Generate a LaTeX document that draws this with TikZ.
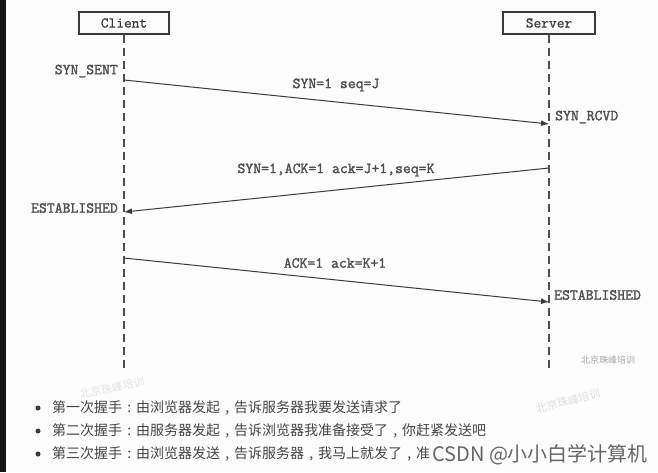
\documentclass[tikz,border=0pt]{standalone}
\usepackage{fontspec}
\setmainfont{Liberation Serif}
\newfontfamily\lblfont[FakeBold=1.6]{Latin Modern Mono}
\newfontfamily\boxfont[FakeBold=0.8]{Latin Modern Mono}
\newfontfamily\cjk{Noto Sans CJK SC}
\usetikzlibrary{arrows.meta}
\definecolor{ink}{HTML}{3A3A3A}
\definecolor{txt}{HTML}{454545}
\definecolor{bg}{HTML}{FCFCFC}
\newcommand{\ccolon}{\makebox[1em][c]{:}}
\newcommand{\ccomma}{\makebox[1em][c]{,}}
\tikzset{
  actor/.style={draw=ink, line width=1.1pt, minimum width=90pt, minimum height=22pt,
    inner sep=0pt, font=\boxfont\fontsize{15}{16}\selectfont, text=ink},
  life/.style={draw=ink!90, line width=1.1pt, dash pattern=on 8pt off 5pt},
  msg/.style={draw=ink, line width=1pt, -{Latex[length=8pt,width=6pt]}},
  state/.style={font=\lblfont\fontsize{15.3}{17}\selectfont, text=ink!90, inner sep=0pt},
  bul/.style={circle, fill=ink, inner sep=0pt, minimum size=5pt},
  line/.style={font=\cjk\fontsize{14}{16}\selectfont, text=txt, inner sep=0pt, anchor=west},
  wm/.style={font=\cjk\fontsize{9}{10}\selectfont, text=black!35, inner sep=0pt},
}
\begin{document}
\begin{tikzpicture}[x=1pt,y=-1pt]
\fill[bg] (0,0) rectangle (658,472);
\useasboundingbox (0,0) rectangle (658,472);
\fill[black!92] (0,0) rectangle (6,472);

% actors
\node[actor] (client) at (124,23) {Client};
\node[actor, minimum width=92pt] (server) at (549,23) {Server};
\coordinate (cend) at (124,370);
\coordinate (send) at (549,368);
\draw[life] (client.south) -- (cend);
\draw[life] (server.south) -- (send);

% message end points
\coordinate (c1) at (124,80);
\coordinate (s1) at (549,124);
\coordinate (s2) at (549,168);
\coordinate (c2) at (124,212);
\coordinate (c3) at (124,258);
\coordinate (s3) at (549,302);

\draw[msg] (c1) -- (s1);
\draw[msg] (s2) -- (c2);
\draw[msg] (c3) -- (s3);

% labels
\node[state] (l1) at (336,85) {SYN=1 seq=J};
\node[state] (l2) at (336,170) {SYN=1,ACK=1 ack=J+1,seq=K};
\node[state] (l3) at (335,263) {ACK=1 ack=K+1};

\node[state, anchor=east] (st1) at (118,71) {SYN\_SENT};
\node[state, anchor=west] (st2) at (555,117) {SYN\_RCVD};
\node[state, anchor=east] (st3) at (118,208) {ESTABLISHED};
\node[state, anchor=west] (st4) at (554,295) {ESTABLISHED};

% watermarks
\node[wm] (w1) at (608,360) {北京珠峰培训};
\node[wm, text=black!12, rotate=15, font=\cjk\fontsize{11}{12}\selectfont] (w2) at (568,401) {北京珠峰培训};
\node[wm, text=black!10, rotate=12, font=\cjk\fontsize{11}{12}\selectfont] (w3) at (112,388) {北京珠峰培训};

% bullets
\node[bul] (b1) at (38,408) {};
\node[bul] (b2) at (38,431) {};
\node[bul] (b3) at (38,454) {};
\node[line] (t1) at (52,408) {第一次握手\ccolon 由浏览器发起\ccomma 告诉服务器我要发送请求了};
\node[line] (t2) at (52,431) {第二次握手\ccolon 由服务器发起\ccomma 告诉浏览器我准备接受了\ccomma 你赶紧发送吧};
\node[line] (t3) at (52,454) {第三次握手\ccolon 由浏览器发送\ccomma 告诉服务器\ccomma 我马上就发了\ccomma 准};

\node[inner sep=0pt, anchor=west, text=black!60, font=\cjk\fontsize{20}{22}\selectfont] (csdn) at (432,455) {CSDN @小小白学计算机};
\end{tikzpicture}
\end{document}
